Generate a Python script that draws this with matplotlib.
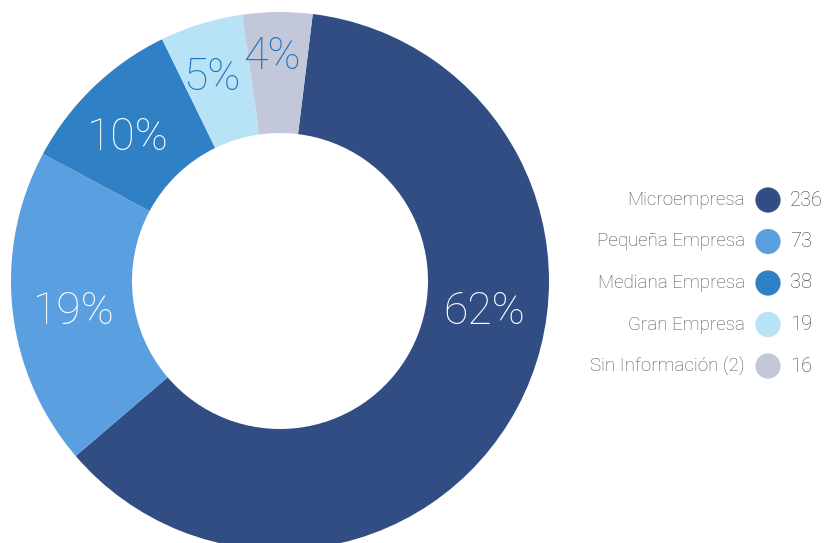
import matplotlib.pyplot as plt

# Data
categorias = ['Microempresa', 'Pequeña Empresa', 'Mediana Empresa', 'Gran Empresa', 'Sin Información (2)']
valores = [236, 73, 38, 19, 16]
porcentajes = ['62%', '19%', '10%', '5%', '4%']
colores = ['#324d84', '#5a9fe0', '#2f80c4', '#b8e2f5', '#c2c8da']
color_etiqueta = ['white', 'white', 'white', '#1f72bb', '#1f72bb']

# label positions in pixels (manual, like the original)
pos_etiqueta = [(484, 231), (74, 231), (128, 405), (212, 465), (272, 486)]

plt.rcParams['font.family'] = ['Roboto', 'DejaVu Sans']

fig = plt.figure(figsize=(8.24, 5.43), dpi=100)
ax = fig.add_axes([0, 0, 1, 1])

# Donut
ax.pie(valores, colors=colores, startangle=83, counterclock=False,
       center=(280, 262), radius=269, frame=True,
       wedgeprops=dict(width=121, linewidth=0))
ax.set_xlim(0, 824)
ax.set_ylim(0, 543)
ax.axis('off')

# percentage labels
for (x, y), txt, c in zip(pos_etiqueta, porcentajes, color_etiqueta):
    ax.text(x, y, txt, color=c, fontsize=32, fontweight='light',
            ha='center', va='center')

# Legend
for i, (cat, val, col) in enumerate(zip(categorias, valores, colores)):
    y = 343 - i * 41.5
    ax.text(745, y, cat, ha='right', va='center', fontsize=13.5,
            color='#505050', fontweight='light')
    ax.scatter([768], [y], s=330, color=col, edgecolors='none')
    ax.text(790, y, str(val), ha='left', va='center', fontsize=14.5,
            color='#404040', fontweight='light')

fig.savefig('out.png', dpi=100)
